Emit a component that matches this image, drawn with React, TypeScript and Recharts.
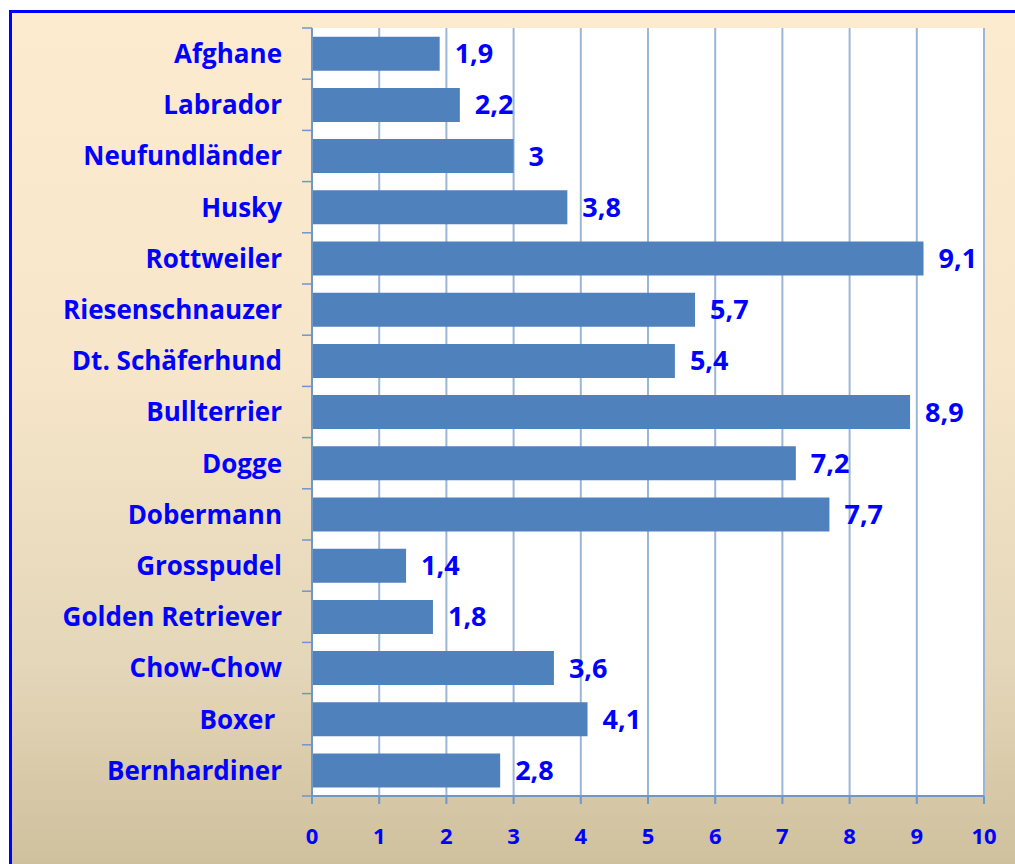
import React from 'react';
import { BarChart, Bar, XAxis, YAxis, CartesianGrid, LabelList } from 'recharts';

const breeds = [
  'Afghane',
  'Labrador',
  'Neufundländer',
  'Husky',
  'Rottweiler',
  'Riesenschnauzer',
  'Dt. Schäferhund',
  'Bullterrier',
  'Dogge',
  'Dobermann',
  'Grosspudel',
  'Golden Retriever',
  'Chow-Chow',
  'Boxer ',
  'Bernhardiner',
];
const values = [1.9, 2.2, 3, 3.8, 9.1, 5.7, 5.4, 8.9, 7.2, 7.7, 1.4, 1.8, 3.6, 4.1, 2.8];
const xTicks = [0, 1, 2, 3, 4, 5, 6, 7, 8, 9, 10];

const data = breeds.map((name, i) => ({ name, value: values[i] }));

const BLUE = '#0000FF';
const FONT = '"Open Sans", sans-serif';

const W = 1003;
const H = 851;
const TOP = 15;
const PLOT_H = 768;
const BAND = PLOT_H / breeds.length;

// category label + Excel-style tick marks between the bands
const CategoryTick = (props: any) => {
  const { x, y, payload, index } = props;
  const axisX = x + 30;
  return (
    <g>
      <line x1={axisX - 10} x2={axisX} y1={y + BAND / 2} y2={y + BAND / 2} stroke="#6E97CB" strokeWidth={1.5} />
      {index === 0 && (
        <line x1={axisX - 10} x2={axisX} y1={y - BAND / 2} y2={y - BAND / 2} stroke="#6E97CB" strokeWidth={1.5} />
      )}
      <text
        x={x}
        y={y}
        dy="0.36em"
        textAnchor="end"
        fill={BLUE}
        fontFamily={FONT}
        fontWeight={700}
        fontSize={26}
        style={{ whiteSpace: 'pre' }}
      >
        {payload.value}
      </text>
    </g>
  );
};

const App: React.FC = () => {
  return (
    <div style={{ position: 'fixed', left: 0, top: 0, width: 1015, height: 864, overflow: 'hidden' }}>
      <div
        style={{
          position: 'absolute',
          left: 9,
          top: 10,
          width: 1020,
          height: 870,
          borderLeft: '3px solid #0000FF',
          borderTop: '3px solid #0000FF',
          background: 'linear-gradient(to bottom, #FDEBD0 0%, #F7E6CA 40%, #E4D6B8 75%, #CDBE9B 100%)',
        }}
      >
        <BarChart
          width={W}
          height={H}
          data={data}
          layout="vertical"
          barCategoryGap="17%"
          margin={{ top: TOP, right: 31, left: 10, bottom: 28 }}
        >
          <CartesianGrid horizontal={false} stroke="#9CB6D8" strokeWidth={2} fill="#FFFFFF" />
          <XAxis
            type="number"
            domain={[0, 10]}
            ticks={xTicks}
            interval={0}
            height={40}
            tickSize={8}
            tickMargin={24}
            axisLine={{ stroke: '#6E97CB', strokeWidth: 2 }}
            tickLine={{ stroke: '#6E97CB', strokeWidth: 2 }}
            tick={{ fill: BLUE, fontFamily: FONT, fontWeight: 700, fontSize: 22 }}
          />
          <YAxis
            type="category"
            dataKey="name"
            width={290}
            interval={0}
            tickSize={10}
            tickMargin={20}
            tickLine={false}
            axisLine={{ stroke: '#6E97CB', strokeWidth: 2 }}
            tick={<CategoryTick />}
          />
          <Bar dataKey="value" fill="#4F81BD" isAnimationActive={false}>
            <LabelList
              dataKey="value"
              position="right"
              offset={15}
              formatter={(v: any) => String(v).replace('.', ',')}
              fill={BLUE}
              fontFamily={FONT}
              fontWeight={700}
              fontSize={27}
            />
          </Bar>
        </BarChart>
      </div>
    </div>
  );
};

export default App;
